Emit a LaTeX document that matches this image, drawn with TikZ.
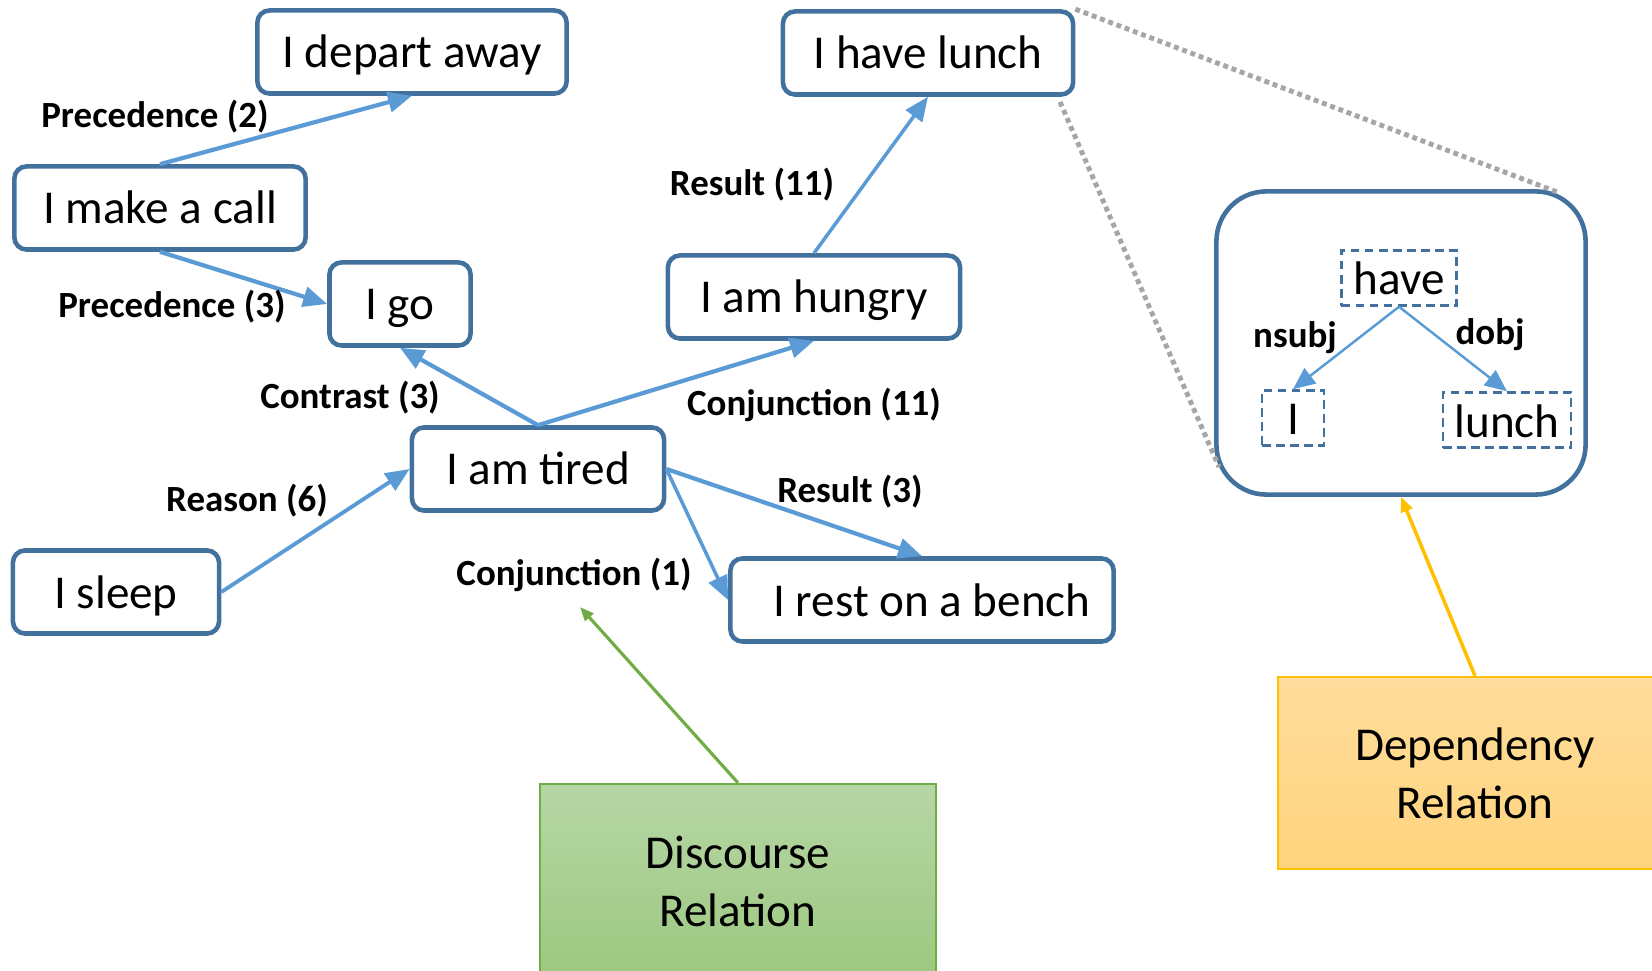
\documentclass[tikz,border=0pt]{standalone}
\usepackage{fontspec}
\setmainfont{Carlito}
\usetikzlibrary{arrows.meta}
\definecolor{boxline}{HTML}{41719C}
\definecolor{arrowblue}{HTML}{5B9BD5}
\definecolor{dotgray}{HTML}{A6A6A6}
\definecolor{greenline}{HTML}{70AD47}
\definecolor{greentop}{RGB}{183,214,165}
\definecolor{greenbot}{RGB}{156,200,128}
\definecolor{yellowline}{HTML}{FFC000}
\definecolor{yellowtop}{RGB}{255,220,156}
\definecolor{yellowbot}{RGB}{255,212,125}

\begin{document}
\begin{tikzpicture}[x=0.01cm,y=-0.01cm,
  event/.style={draw=boxline,line width=1.3pt,rounded corners=0.12cm,fill=white,
    font=\fontsize{13.4}{16}\selectfont,minimum height=0.83cm,
    text height=0.42cm,text depth=0.1cm},
  rel/.style={font=\fontsize{10.5}{12}\selectfont\bfseries},
  link/.style={draw=arrowblue,line width=1.2pt,-{Triangle[length=0.24cm,width=0.2cm]}},
  word/.style={draw=boxline,dash pattern=on 2.5pt off 1.5pt,line width=0.7pt,
    font=\fontsize{13.4}{16}\selectfont,minimum height=0.55cm,inner ysep=0.01cm,
    text height=0.43cm,text depth=0.09cm},
  deplink/.style={draw=arrowblue,line width=0.7pt,-{Triangle[length=0.22cm,width=0.19cm]}},
  zoomline/.style={draw=dotgray,line width=1.4pt,dash pattern=on 1.4pt off 1.1pt},
  legend/.style={font=\fontsize{13.4}{16.5}\selectfont,align=center,line width=0.6pt}]
\useasboundingbox (0,0) rectangle (1652,971);
% events
\node[event,minimum width=3.09cm](depart) at (412,52) {I depart away};
\node[event,minimum width=2.91cm](call) at (160,208) {I make a call};
\node[event,minimum width=1.41cm](go) at (400,304) {I go};
\node[event,minimum width=2.52cm](tired) at (538,469) {I am tired};
\node[event,minimum width=2.06cm](sleep) at (116,592) {I sleep};
\node[event,minimum width=3.83cm](bench) at (922,600) {\hspace{0.2cm}I rest on a bench};
\node[event,minimum width=2.92cm](hungry) at (814,297) {I am hungry};
\node[event,minimum width=2.90cm](lunch) at (928,53) {I have lunch};
% discourse relations
\draw[link](call.north)--(depart.south);
\draw[link](call.south)--(go.west);
\draw[link](tired.north)--(go.south);
\draw[link](tired.north)--(hungry.south);
\draw[link,line width=1pt](hungry.north)--(lunch.south);
\draw[link,line width=1.1pt](sleep.east)--(tired.west);
\draw[link](tired.east)--(bench.north);
\draw[link,line width=1pt](tired.east)--(bench.west);
\node[rel](l1) at (155,117) {Precedence (2)};
\node[rel](l2) at (172,307) {Precedence (3)};
\node[rel](l3) at (350,398) {Contrast (3)};
\node[rel](l4) at (814,405) {Conjunction (11)};
\node[rel](l5) at (752,185) {Result (11)};
\node[rel](l6) at (247,501) {Reason (6)};
\node[rel](l7) at (850,492) {Result (3)};
\node[rel](l8) at (574,575) {Conjunction (1)};
% zoomed dependency parse
\node[draw=boxline,line width=1.3pt,rounded corners=0.5cm,minimum width=3.69cm,minimum height=3.03cm](zoom) at (1401,343) {};
\coordinate (ze) at (1557,192);
\coordinate (zs) at (1219,467);
\draw[zoomline](lunch.north east)--(ze);
\draw[zoomline](1060,102)--(zs);
\node[word,minimum width=1.15cm](have) at (1399,278) {have};
\node[word,minimum width=0.62cm](subj) at (1293,418) {I};
\node[word,minimum width=1.15cm](obj) at (1507,420) {lunch};
\draw[deplink](have.south)--(subj.north);
\draw[deplink](have.south)--(obj.north);
\node[rel](d1) at (1295,338) {nsubj};
\node[rel](d2) at (1490,335) {dobj};
% legend boxes
\node[legend,draw=greenline,top color=greentop,bottom color=greenbot,minimum width=3.95cm,minimum height=1.94cm](disc) at (738,881) {Discourse\\Relation};
\node[legend,draw=yellowline,top color=yellowtop,bottom color=yellowbot,minimum width=3.94cm,minimum height=1.92cm](dep) at (1475,773) {Dependency\\Relation};
\coordinate (dt) at (580,607);
\draw[draw=greenline,line width=0.9pt,-{Triangle[length=0.14cm,width=0.11cm]}](disc.north)--(dt);
\draw[draw=yellowline,line width=1pt,-{Triangle[length=0.15cm,width=0.12cm]}](dep.north)--(zoom.south);
\end{tikzpicture}
\end{document}
